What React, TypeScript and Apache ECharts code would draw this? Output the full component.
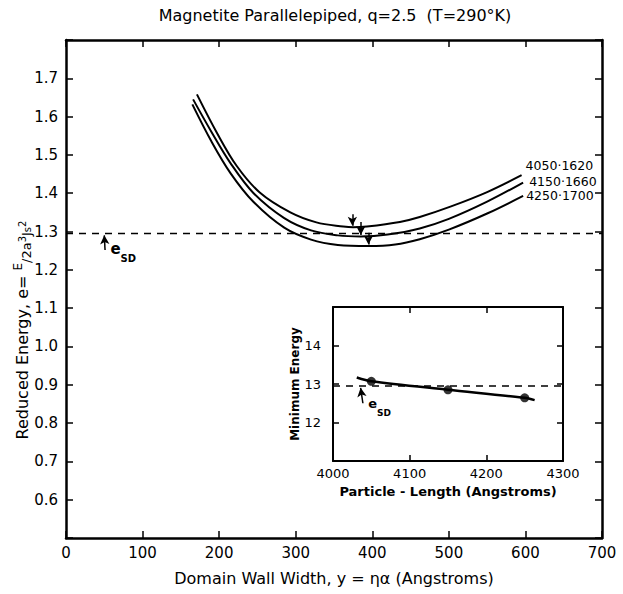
import React, { useEffect, useRef } from 'react';
import * as echarts from 'echarts';

const FONT = 'DejaVu Sans';

// ---- main chart data ----
const titleText = 'Magnetite Parallelepiped, q=2.5  (T=290°K)';
const mainXTicks = [0, 100, 200, 300, 400, 500, 600, 700];
const mainYLabels = [0.6, 0.7, 0.8, 0.9, 1.0, 1.1, 1.2, 1.3, 1.4, 1.5, 1.6, 1.7];
const eSD = 1.295;

const curveLabels = ['4050·1620', '4150·1660', '4250·1700'];
const curve4050X = [171, 197, 223, 253, 293, 327, 362, 375, 393, 436, 462, 502, 550, 595];
const curve4050Y = [1.658, 1.558, 1.471, 1.402, 1.35, 1.324, 1.313, 1.311, 1.313, 1.325, 1.338, 1.365, 1.403, 1.447];
const curve4150X = [166, 190, 215, 245, 285, 320, 355, 385, 420, 462, 500, 550, 597];
const curve4150Y = [1.645, 1.56, 1.478, 1.4, 1.335, 1.303, 1.29, 1.287, 1.292, 1.308, 1.333, 1.378, 1.428];
const curve4250X = [165, 190, 215, 245, 285, 320, 355, 395, 430, 462, 500, 550, 597];
const curve4250Y = [1.632, 1.535, 1.452, 1.377, 1.31, 1.279, 1.265, 1.262, 1.266, 1.28, 1.305, 1.347, 1.393];

const minArrowX = [374, 385, 395];
const minArrowFrom = [1.345, 1.325, 1.297];
const minArrowTo = [1.315, 1.291, 1.266];

// ---- inset data ----
const insetXTicks = [4000, 4100, 4200, 4300];
const insetYLabels = [1.2, 1.3, 1.4];
const insetLineX = [4031, 4050, 4150, 4250, 4263];
const insetLineY = [1.317, 1.307, 1.285, 1.264, 1.258];
const insetPointX = [4050, 4150, 4250];
const insetPointY = [1.307, 1.285, 1.264];

const zip = (xs: number[], ys: number[]) => xs.map((x, i) => [x, ys[i]]);

const axisCommon = (extra: any) => ({
  type: 'value',
  splitLine: { show: false },
  axisLine: { show: true, onZero: false, lineStyle: { color: '#000', width: 2.5 } },
  axisTick: { show: true, inside: true, length: 7, lineStyle: { color: '#000', width: 1.5 } },
  ...extra,
});

const insetLine = { show: true, onZero: false, lineStyle: { color: '#000', width: 2 } };
const insetTick = { show: true, inside: true, length: 6, lineStyle: { color: '#000', width: 1.5 } };

export default function App() {
  const ref = useRef<HTMLDivElement>(null);
  useEffect(() => {
    document.body.style.margin = '0';
    const chart = echarts.init(ref.current!, null, { renderer: 'svg' });
    const curves = [zip(curve4050X, curve4050Y), zip(curve4150X, curve4150Y), zip(curve4250X, curve4250Y)];
    const labelOffsets = [[4, -10], [6, -1], [3, 0]];
    const mainLabel = (v: number) => {
      const r = Math.round(v * 10) / 10;
      return mainYLabels.some((l) => Math.abs(l - r) < 1e-6) && Math.abs(v - r) < 1e-6 ? r.toFixed(1) : '';
    };
    const insetLabel = (v: number) => {
      const r = Math.round(v * 10) / 10;
      return insetYLabels.some((l) => Math.abs(l - r) < 1e-6) ? String(Math.round(r * 10)) : '';
    };
    const tokens = (size: number, va: string) => ({
      fontSize: size, fontFamily: FONT, verticalAlign: va, lineHeight: 21, fill: '#000', color: '#000',
    });
    const option: any = {
      animation: false,
      backgroundColor: '#fff',
      textStyle: { fontFamily: FONT, color: '#000' },
      grid: [
        { left: 66, top: 40, width: 536, height: 498 },
        { left: 333, top: 307, width: 230, height: 154 },
      ],
      xAxis: [
        axisCommon({
          gridIndex: 0, position: 'bottom', min: mainXTicks[0], max: mainXTicks[mainXTicks.length - 1], interval: 100,
          axisLabel: { color: '#000', fontSize: 15, fontFamily: FONT, margin: 7 },
          name: 'Domain Wall Width, y = ηα (Angstroms)', nameLocation: 'middle', nameGap: 32,
          nameTextStyle: { color: '#000', fontSize: 16, fontFamily: FONT },
        }),
        axisCommon({
          gridIndex: 0, position: 'top', min: 0, max: 700, interval: 100, axisLabel: { show: false },
        }),
        axisCommon({
          gridIndex: 1, position: 'bottom', min: insetXTicks[0], max: insetXTicks[insetXTicks.length - 1], interval: 100,
          axisLine: insetLine, axisTick: insetTick,
          axisLabel: { color: '#000', fontSize: 13, fontFamily: FONT, margin: 6, formatter: (v: number) => String(v) },
          name: 'Particle - Length (Angstroms)', nameLocation: 'middle', nameGap: 24,
          nameTextStyle: { color: '#000', fontSize: 13, fontFamily: FONT, fontWeight: 'bold' },
        }),
        axisCommon({
          gridIndex: 1, position: 'top', min: 4000, max: 4300, interval: 100, axisLabel: { show: false },
          axisLine: insetLine, axisTick: insetTick,
        }),
      ],
      yAxis: [
        axisCommon({
          gridIndex: 0, position: 'left', min: 0.5, max: 1.8, interval: 0.1,
          axisLabel: { color: '#000', fontSize: 15, fontFamily: FONT, margin: 8, formatter: mainLabel },
        }),
        axisCommon({
          gridIndex: 0, position: 'right', min: 0.5, max: 1.8, interval: 0.1, axisLabel: { show: false },
        }),
        axisCommon({
          gridIndex: 1, position: 'left', min: 1.1, max: 1.5, interval: 0.1,
          axisLine: insetLine, axisTick: insetTick,
          axisLabel: { color: '#000', fontSize: 13, fontFamily: FONT, margin: 12, formatter: insetLabel },
          name: 'Minimum Energy', nameLocation: 'middle', nameGap: 32, nameRotate: 90,
          nameTextStyle: { color: '#000', fontSize: 12, fontFamily: FONT, fontWeight: 'bold' },
        }),
        axisCommon({
          gridIndex: 1, position: 'right', min: 1.1, max: 1.5, interval: 0.1, axisLabel: { show: false },
          axisLine: insetLine, axisTick: insetTick,
        }),
      ],
      graphic: [
        {
          type: 'text', x: 335, y: 15,
          style: { text: titleText, fill: '#000', font: `16px "${FONT}"`, align: 'center', verticalAlign: 'middle' },
        },
        {
          type: 'text', x: 22, y: 330, rotation: Math.PI / 2,
          style: {
            text: '{b|Reduced Energy, e= }{sup|E}{sub|/2a}{tiny|3}{sub|J}{subs|s}{tiny|2}',
            fill: '#000', font: `16px "${FONT}"`, align: 'center', verticalAlign: 'middle',
            rich: {
              b: tokens(16, 'middle'),
              sup: tokens(12, 'top'),
              sub: tokens(13, 'bottom'),
              tiny: tokens(10, 'middle'),
              subs: tokens(10, 'bottom'),
            },
          },
        },
      ],
      series: [
        ...curves.map((data, i) => ({
          type: 'line', xAxisIndex: 0, yAxisIndex: 0, data, showSymbol: false, symbol: 'none',
          smooth: 0.35, lineStyle: { color: '#000', width: 2 }, silent: true,
          endLabel: {
            show: true, formatter: curveLabels[i], color: '#000', fontSize: 12.5, fontFamily: FONT,
            lineHeight: 12, distance: 0, offset: labelOffsets[i], align: 'left', verticalAlign: 'middle',
          },
          markLine: {
            silent: true, symbol: ['none', 'arrow'], symbolSize: [7, 9],
            lineStyle: { color: '#000', width: 1.5, type: 'solid' }, label: { show: false },
            data: [[{ coord: [minArrowX[i], minArrowFrom[i]] }, { coord: [minArrowX[i], minArrowTo[i]] }]],
          },
        })),
        {
          type: 'line', xAxisIndex: 0, yAxisIndex: 0, data: [[0, eSD], [700, eSD]], symbol: 'none', silent: true,
          lineStyle: { color: '#000', width: 1.5, type: [7, 6] },
          markLine: {
            silent: true, symbol: ['none', 'arrow'], symbolSize: [7, 9],
            lineStyle: { color: '#000', width: 1.5, type: 'solid' }, label: { show: false },
            data: [[{ coord: [51, 1.252] }, { coord: [50, 1.29] }]],
          },
          markPoint: {
            silent: true, symbol: 'circle', symbolSize: 0,
            data: [{ coord: [58, 1.245] }],
            label: {
              show: true, position: 'right', distance: 0, formatter: '{e|e}{s|SD}',
              rich: {
                e: { fontSize: 15, fontWeight: 'bold', fontFamily: FONT, color: '#000', verticalAlign: 'top', lineHeight: 22 },
                s: { fontSize: 10, fontWeight: 'bold', fontFamily: FONT, color: '#000', verticalAlign: 'bottom', lineHeight: 22 },
              },
            },
          },
        },
        {
          type: 'line', xAxisIndex: 2, yAxisIndex: 2, data: [[4000, eSD], [4300, eSD]], symbol: 'none', silent: true,
          lineStyle: { color: '#000', width: 1.5, type: [7, 6] },
          markLine: {
            silent: true, symbol: ['none', 'arrow'], symbolSize: [7, 9],
            lineStyle: { color: '#000', width: 1.5, type: 'solid' }, label: { show: false },
            data: [[{ coord: [4039, 1.25] }, { coord: [4036, 1.29] }]],
          },
          markPoint: {
            silent: true, symbol: 'circle', symbolSize: 0,
            data: [{ coord: [4046, 1.24] }],
            label: {
              show: true, position: 'right', distance: 0, formatter: '{e|e}{s|SD}',
              rich: {
                e: { fontSize: 13, fontWeight: 'bold', fontFamily: FONT, color: '#000', verticalAlign: 'top', lineHeight: 20 },
                s: { fontSize: 9, fontWeight: 'bold', fontFamily: FONT, color: '#000', verticalAlign: 'bottom', lineHeight: 20 },
              },
            },
          },
        },
        {
          type: 'line', xAxisIndex: 2, yAxisIndex: 2, data: zip(insetLineX, insetLineY), symbol: 'none', silent: true,
          smooth: 0.3, lineStyle: { color: '#000', width: 2.5 },
        },
        {
          type: 'scatter', xAxisIndex: 2, yAxisIndex: 2, data: zip(insetPointX, insetPointY), silent: true,
          symbol: 'circle', symbolSize: 9, itemStyle: { color: '#000' },
        },
      ],
    };
    chart.setOption(option);
    return () => chart.dispose();
  }, []);
  return <div ref={ref} style={{ width: 623, height: 594 }} />;
}
